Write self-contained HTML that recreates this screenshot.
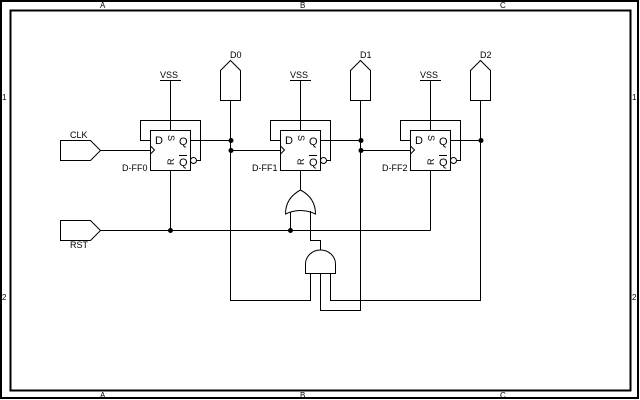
<!DOCTYPE html>
<html><head><meta charset="utf-8"><style>
html,body{margin:0;padding:0;background:#fff;}
svg{display:block;}
text{font-family:"Liberation Sans",sans-serif;fill:#000;}
</style></head><body>
<svg width="640" height="400" viewBox="0 0 640 400" xmlns="http://www.w3.org/2000/svg">
<g fill="none" stroke="#000" stroke-width="1" shape-rendering="crispEdges">
<rect x="1" y="1" width="637" height="397" stroke-width="2"/>
<rect x="10.5" y="10.5" width="620" height="380" stroke-width="2"/>
</g>
<g style="font-size:8px">
<text x="100" y="8">A</text><text x="300" y="8">B</text><text x="500" y="8">C</text>
<text x="100" y="398">A</text><text x="300" y="398">B</text><text x="500" y="398">C</text>
<text x="2" y="100">1</text><text x="2" y="300">2</text>
<text x="632" y="100">1</text><text x="632" y="300">2</text>
</g>
<defs>
<g id="ff">
<rect x="0.5" y="0.5" width="40" height="40" fill="#fff" stroke="#000"/>
<polyline points="0.5,16 4.5,20 0.5,24" fill="none" stroke="#000"/>
<circle cx="43.5" cy="30.5" r="3" fill="#fff" stroke="#000"/>
<text x="5" y="14" style="font-size:11px">D</text>
<text x="29" y="15" style="font-size:11px">Q</text>
<text x="29" y="36" style="font-size:11px">Q</text>
<line x1="29" y1="25.5" x2="37" y2="25.5" stroke="#000"/>
<text x="0" y="0" style="font-size:9px" transform="translate(18,5) rotate(90)">S</text>
<text x="0" y="0" style="font-size:9px" transform="translate(24,35) rotate(-90)">R</text>
</g>
</defs>
<g fill="none" stroke="#000" stroke-width="1">
<polygon points="60.5,140.5 90.5,140.5 100.5,150.5 90.5,160.5 60.5,160.5"/>
<polygon points="60.5,220.5 90.5,220.5 100.5,230.5 90.5,240.5 60.5,240.5"/>
<line x1="100" y1="150.5" x2="150" y2="150.5"/>
<line x1="100" y1="230.5" x2="430.5" y2="230.5"/>
<polygon points="220.5,70.5 230.5,60.5 240.5,70.5 240.5,100.5 220.5,100.5"/>
<polygon points="350.5,70.5 360.5,60.5 370.5,70.5 370.5,100.5 350.5,100.5"/>
<polygon points="470.5,70.5 480.5,60.5 490.5,70.5 490.5,100.5 470.5,100.5"/>
<line x1="160" y1="80.5" x2="181" y2="80.5"/><line x1="170.5" y1="80" x2="170.5" y2="130"/>
<line x1="290" y1="80.5" x2="311" y2="80.5"/><line x1="300.5" y1="80" x2="300.5" y2="130"/>
<line x1="420" y1="80.5" x2="441" y2="80.5"/><line x1="430.5" y1="80" x2="430.5" y2="130"/>
<polyline points="150,140.5 140.5,140.5 140.5,120.5 200.5,120.5 200.5,160.5 197,160.5"/>
<polyline points="280,140.5 270.5,140.5 270.5,120.5 330.5,120.5 330.5,160.5 327,160.5"/>
<polyline points="410,140.5 400.5,140.5 400.5,120.5 460.5,120.5 460.5,160.5 457,160.5"/>
<line x1="190" y1="140.5" x2="231" y2="140.5"/>
<line x1="320" y1="140.5" x2="361" y2="140.5"/>
<line x1="450" y1="140.5" x2="481" y2="140.5"/>
<line x1="230.5" y1="150.5" x2="280" y2="150.5"/>
<line x1="360.5" y1="150.5" x2="410" y2="150.5"/>
<polyline points="230.5,100 230.5,300.5 310.5,300.5 310.5,273"/>
<polyline points="360.5,100 360.5,310.5 320.5,310.5 320.5,273"/>
<polyline points="480.5,100 480.5,300.5 330.5,300.5 330.5,273"/>
<line x1="170.5" y1="170" x2="170.5" y2="230.5"/>
<line x1="430.5" y1="170" x2="430.5" y2="230.5"/>
<line x1="300.5" y1="170" x2="300.5" y2="190"/>
<path d="M285.5,214 Q285.5,198 300.5,190 Q315.5,198 315.5,214 Q300.5,207 285.5,214 Z"/>
<line x1="290.5" y1="212" x2="290.5" y2="230.5"/>
<polyline points="310.5,211 310.5,240.5 320.5,240.5 320.5,250"/>
<path d="M305.5,273.5 L305.5,264 A15,14 0 0 1 335.5,264 L335.5,273.5 Z"/>
</g>
<g fill="#000">
<circle cx="231" cy="140.5" r="2.5"/><circle cx="231" cy="150.5" r="2.5"/>
<circle cx="361" cy="140.5" r="2.5"/><circle cx="361" cy="150.5" r="2.5"/>
<circle cx="481" cy="140.5" r="2.5"/>
<circle cx="170.5" cy="230.5" r="2.5"/><circle cx="290.5" cy="230.5" r="2.5"/>
</g>
<use href="#ff" x="150" y="130"/>
<use href="#ff" x="280" y="130"/>
<use href="#ff" x="410" y="130"/>
<g style="font-size:9px">
<text x="70" y="138">CLK</text>
<text x="70" y="248">RST</text>
<text x="160" y="78">VSS</text><text x="290" y="78">VSS</text><text x="420" y="78">VSS</text>
<text x="230" y="58">D0</text><text x="360" y="58">D1</text><text x="480" y="58">D2</text>
<text x="122" y="171">D-FF0</text><text x="252" y="171">D-FF1</text><text x="382" y="171">D-FF2</text>
</g>
</svg>
</body></html>
